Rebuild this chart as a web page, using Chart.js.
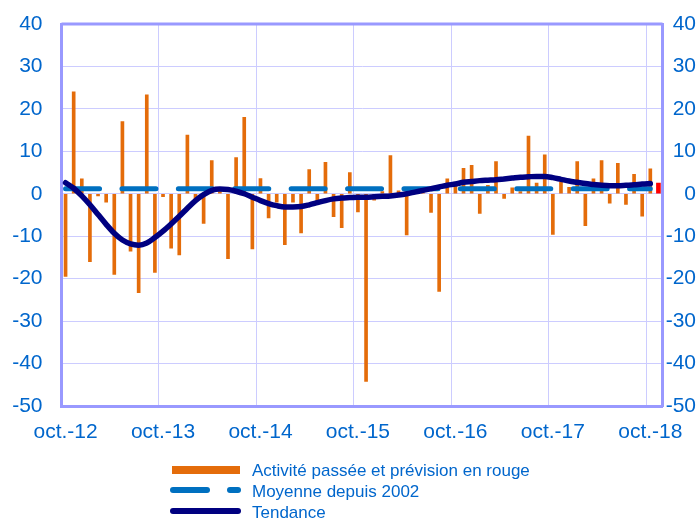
<!DOCTYPE html>
<html>
<head>
<meta charset="utf-8">
<script src="https://cdn.jsdelivr.net/npm/chart.js@4.4.0/dist/chart.umd.min.js"></script>
<style>
  body { margin: 0; background: #fff; }
  #wrap { position: relative; width: 700px; height: 518px; overflow: hidden; }
  .leg { position: absolute; font-family: "Liberation Sans", Arial, sans-serif; font-size: 17px; color: #0066CC; line-height: 18px; white-space: nowrap; }
  .sym { position: absolute; }
</style>
</head>
<body>
<div id="wrap">
  <canvas id="ActiviteChart" width="700" height="518"></canvas>
  <div class="sym" style="left:172px;top:466px;width:68px;height:8px;background:#E46C0A;"></div>
  <div class="leg" style="left:252px;top:462px;">Activité passée et prévision en rouge</div>
  <div class="sym" style="left:170px;top:487px;width:40px;height:6px;border-radius:3px;background:#0070C0;"></div>
  <div class="sym" style="left:227px;top:487px;width:14px;height:6px;border-radius:3px;background:#0070C0;"></div>
  <div class="leg" style="left:252px;top:483px;">Moyenne depuis 2002</div>
  <div class="sym" style="left:170px;top:508px;width:71px;height:6px;border-radius:3px;background:#000080;"></div>
  <div class="leg" style="left:252px;top:503.5px;">Tendance</div>
</div>
<script>
const ctx = document.getElementById("ActiviteChart");

// oct.-12 ... oct.-18 (mensuel)
const activite = [
  -19.5, 24, 3.5,
  -16, -0.5, -2, -19, 17, -13.5, -23.3, 23.3, -18.5, -0.7, -12.8, -14.4,
  13.8, -1.5, -7, 7.8, 0.5, -15.3, 8.5, 18, -13, 3.6, -5.7, -2,
  -12, -2, -9.2, 5.7, -2, 7.4, -5.4, -8, 5, -4.3, -44.2, -1.5,
  0.5, 9, 0.7, -9.7, 0.8, 0.3, -4.4, -23, 3.5, 2.5, 6, 6.7,
  -4.6, 2, 7.6, -1.1, 1.4, 0.5, 13.6, 2.5, 9.2, -9.6, 2.8, 1.5,
  7.6, -7.5, 3.5, 7.8, -2.2, 7.2, -2.5, 4.6, -5.3, 5.9
];
// nov.-18
const prevision = [2.5];

const moyenne = 1.2;

const tendance = [
  2.6, 1.3, -0.5,
  -2.6, -4.9, -7.2, -9.3, -10.9, -11.8, -12.1, -11.6, -10.3, -8.8, -7.1, -5.3,
  -3.4, -1.6, -0.2, 0.8, 1.1, 1.0, 0.6, 0, -0.8, -1.6, -2.3, -2.8,
  -3.1, -3.1, -3.0, -2.6, -2.1, -1.6, -1.2, -1.0, -0.9, -0.8, -0.8, -0.7,
  -0.6, -0.5, -0.3, 0, 0.4, 0.8, 1.2, 1.6, 2.0, 2.3, 2.7, 2.9,
  3.1, 3.2, 3.3, 3.5, 3.7, 3.9, 4.0, 4.1, 4.1, 3.8, 3.4, 3.0,
  2.7, 2.4, 2.2, 2.0, 1.9, 1.9, 2.0, 2.1, 2.3, 2.4
];

const yTicks = [40, 30, 20, 10, 0, -10, -20, -30, -40, -50];

const moisNoms = ["janv.", "févr.", "mars", "avr.", "mai", "juin", "juil.", "août", "sept.", "oct.", "nov.", "déc."];

const bleuTexte = "#0066CC";
const police = "'Liberation Sans', Arial, sans-serif";

function makeLabels(n) {
  let labels = [];
  for (let i = 0; i < n; i++) {
    let m = (9 + i) % 12;
    let an = 12 + Math.floor((9 + i) / 12);
    labels.push(moisNoms[m] + "-" + an);
  }
  return labels;
}

const nbMois = activite.length + prevision.length;
const labels = makeLabels(nbMois);

const barsActivite = activite.concat(prevision.map(() => null));
const barsPrevision = activite.map(() => null).concat(prevision);
const lineMoyenne = activite.map(() => moyenne).concat(prevision.map(() => null));
const lineTendance = tendance.concat(prevision.map(() => null));

// cadre du haut
const cadre = {
  id: "cadre",
  beforeDatasetsDraw(chart) {
    const a = chart.chartArea;
    const c = chart.ctx;
    c.save();
    c.strokeStyle = "#9999FF";
    c.lineWidth = 3;
    c.beginPath();
    c.moveTo(a.left, a.top);
    c.lineTo(a.right, a.top);
    c.stroke();
    c.restore();
  },
};

function fitY(width) {
  return function (s) {
    s.width = width;
    s.paddingTop = 0;
    s.paddingBottom = 0;
  };
}

new Chart(ctx, {
  type: "bar",
  data: {
    labels: labels,
    datasets: [
      {
        type: "line",
        label: "Tendance",
        data: lineTendance,
        borderColor: "#000080",
        borderWidth: 5.5,
        pointRadius: 0,
        cubicInterpolationMode: "monotone",
        borderCapStyle: "round",
        order: 1,
      },
      {
        type: "line",
        label: "Moyenne depuis 2002",
        data: lineMoyenne,
        borderColor: "#0070C0",
        borderWidth: 5,
        borderDash: [34, 22.4],
        borderCapStyle: "round",
        pointRadius: 0,
        order: 2,
      },
      {
        label: "Activité passée",
        data: barsActivite,
        backgroundColor: "#E46C0A",
        barThickness: 3,
        grouped: false,
        order: 3,
      },
      {
        label: "Prévision",
        data: barsPrevision,
        backgroundColor: "#FF0000",
        barThickness: 4,
        grouped: false,
        order: 3,
      },
    ],
  },
  options: {
    responsive: false,
    animation: false,
    layout: { padding: { top: 24, bottom: 72, right: 4 } },
    plugins: {
      legend: { display: false },
      tooltip: { enabled: false },
    },
    scales: {
      x: {
        offset: true,
        grid: {
          offset: true,
          drawTicks: false,
          color: (c) => (c.index % 12 === 0 ? "#CCCCFF" : "rgba(0,0,0,0)"),
        },
        border: { color: "#9999FF", width: 3 },
        ticks: {
          autoSkip: false,
          maxRotation: 0,
          padding: 14,
          color: bleuTexte,
          font: { family: police, size: 21 },
          callback: function (v, i) {
            return i % 12 === 0 ? labels[i].replace(/^.*-/, "oct.-") : "";
          },
        },
        afterFit: (s) => { s.height = 40; s.paddingLeft = 0; s.paddingRight = 0; },
      },
      y: {
        position: "left",
        min: -50,
        max: 40,
        grid: { color: "#CCCCFF", drawTicks: false },
        border: { color: "#9999FF", width: 3 },
        ticks: {
          stepSize: 10,
          padding: 19,
          color: bleuTexte,
          font: { family: police, size: 21 },
        },
        afterBuildTicks: (s) => { s.ticks = yTicks.map((v) => ({ value: v })); },
        afterFit: fitY(61.5),
      },
      y2: {
        position: "right",
        min: -50,
        max: 40,
        grid: { drawOnChartArea: false, drawTicks: false },
        border: { color: "#9999FF", width: 3 },
        ticks: {
          stepSize: 10,
          padding: 6,
          crossAlign: "far",
          color: bleuTexte,
          font: { family: police, size: 21 },
        },
        afterBuildTicks: (s) => { s.ticks = yTicks.map((v) => ({ value: v })); },
        afterFit: fitY(33.5),
      },
    },
  },
  plugins: [cadre],
});
</script>
</body>
</html>
